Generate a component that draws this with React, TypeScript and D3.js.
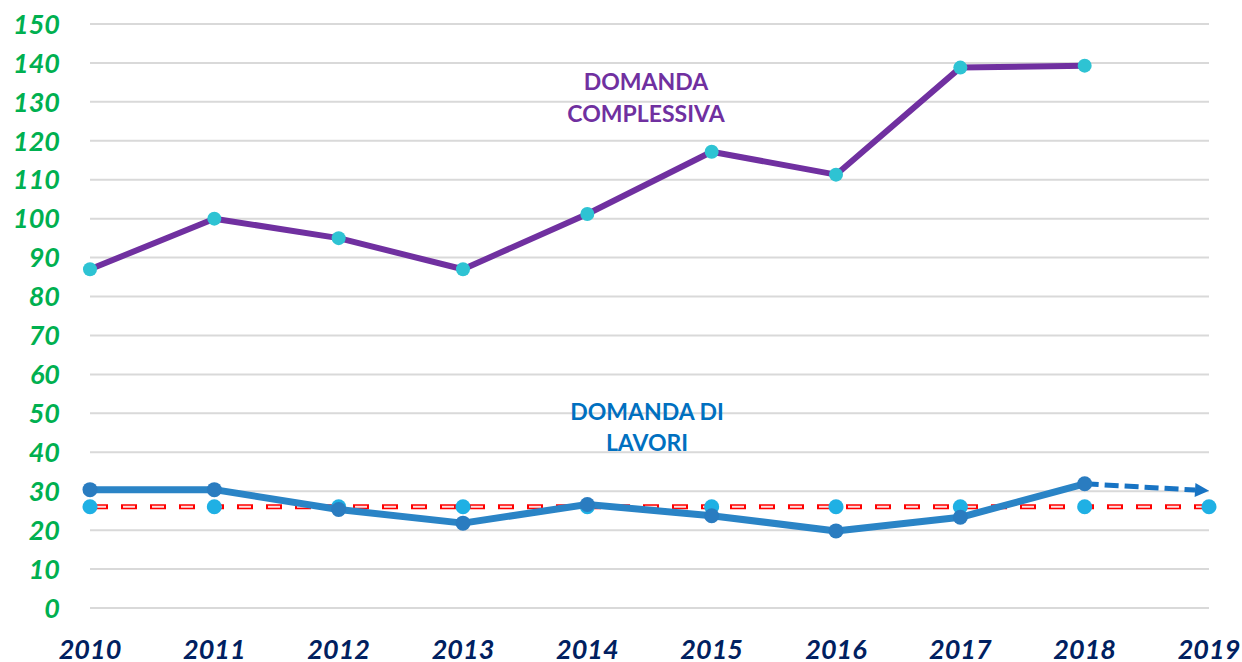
import React from "react";
import * as d3 from "d3";

const years = [2010, 2011, 2012, 2013, 2014, 2015, 2016, 2017, 2018, 2019];
const yTicks = [0, 10, 20, 30, 40, 50, 60, 70, 80, 90, 100, 110, 120, 130, 140, 150];
const domandaComplessiva = [87, 100, 95, 87, 101.2, 117.2, 111.3, 138.8, 139.3];
const domandaLavori = [30.4, 30.4, 25.3, 21.8, 26.6, 23.7, 19.8, 23.3, 31.9];
const trendLavori = [31.9, 30.1];
const mediaLavori = [26, 26, 26, 26, 26, 26, 26, 26, 26, 26];

const W = 1242;
const H = 662;
const FONT = "Lato, 'Open Sans', sans-serif";

export default function App() {
  const x = d3.scaleLinear().domain([2010, 2019]).range([90, 1209]);
  const y = d3.scaleLinear().domain([0, 150]).range([608, 24]);

  const purpleLine = d3
    .line<number>()
    .x((_, i) => x(years[i]))
    .y((d) => y(d))(domandaComplessiva) as string;
  const blueLine = d3
    .line<number>()
    .x((_, i) => x(years[i]))
    .y((d) => y(d))(domandaLavori) as string;
  const redLine = d3
    .line<number>()
    .x((_, i) => x(years[i]))
    .y((d) => y(d))(mediaLavori) as string;

  const tx1 = x(2018);
  const ty1 = y(trendLavori[0]);
  const tx2 = x(2019);
  const ty2 = y(trendLavori[1]);
  const ang = Math.atan2(ty2 - ty1, tx2 - tx1);
  const headLen = 14;
  const headW = 7;
  const bx = tx2 - headLen * Math.cos(ang);
  const by = ty2 - headLen * Math.sin(ang);
  const head = `M${tx2},${ty2} L${bx - headW * Math.sin(ang)},${by + headW * Math.cos(ang)} L${bx + headW * Math.sin(ang)},${by - headW * Math.cos(ang)} Z`;

  return (
    <svg width={W} height={H} style={{ position: "absolute", left: 0, top: 0, background: "#fff" }}>
      <rect width={W} height={H} fill="#fff" />
      {yTicks.map((t) => (
        <g key={t}>
          <line x1={90} x2={1209} y1={y(t)} y2={y(t)} stroke="#d9d9d9" strokeWidth={2} />
          <text
            x={60}
            y={y(t)}
            dy="0.36em"
            textAnchor="end"
            fontFamily={FONT}
            fontWeight="bold"
            fontStyle="italic"
            fontSize={27}
            fill="#00B050"
          >
            {t}
          </text>
        </g>
      ))}
      {years.map((yr) => (
        <text
          key={yr}
          x={x(yr)}
          y={649}
          dy="0.36em"
          textAnchor="middle"
          fontFamily={FONT}
          fontWeight="bold"
          fontStyle="italic"
          fontSize={27}
          fill="#002060"
        >
          {yr}
        </text>
      ))}

      {/* red dashed average line */}
      <path d={redLine} fill="none" stroke="#FF0000" strokeWidth={5} strokeDasharray="16 13" strokeDashoffset={-2} />
      <path d={redLine} fill="none" stroke="#FFE0E0" strokeWidth={2} strokeDasharray="12 17" strokeDashoffset={-4} />
      {mediaLavori.map((v, i) => (
        <circle key={"m" + i} cx={x(years[i])} cy={y(v)} r={7.5} fill="#1FB0E4" />
      ))}

      {/* purple line */}
      <path d={purpleLine} fill="none" stroke="#7030A0" strokeWidth={6} strokeLinejoin="round" />
      {domandaComplessiva.map((v, i) => (
        <circle key={"p" + i} cx={x(years[i])} cy={y(v)} r={7} fill="#2EC3D3" />
      ))}

      {/* blue trend arrow */}
      <line
        x1={tx1}
        y1={ty1}
        x2={bx}
        y2={by}
        stroke="#1874C4"
        strokeWidth={5}
        strokeDasharray="14 6"
      />
      <path d={head} fill="#1874C4" />

      {/* blue line */}
      <path d={blueLine} fill="none" stroke="#2A84C6" strokeWidth={7} strokeLinejoin="round" />
      {domandaLavori.map((v, i) => (
        <circle key={"b" + i} cx={x(years[i])} cy={y(v)} r={7.5} fill="#2A7CC0" />
      ))}

      <g fontFamily={FONT} fontWeight="bold" fontSize={23} textAnchor="middle">
        <text x={646} y={82} dy="0.36em" fill="#7030A0">DOMANDA</text>
        <text x={646} y={114} dy="0.36em" fill="#7030A0">COMPLESSIVA</text>
        <text x={647} y={412} dy="0.36em" fill="#0070C0">DOMANDA DI</text>
        <text x={647} y={443} dy="0.36em" fill="#0070C0">LAVORI</text>
      </g>
    </svg>
  );
}
